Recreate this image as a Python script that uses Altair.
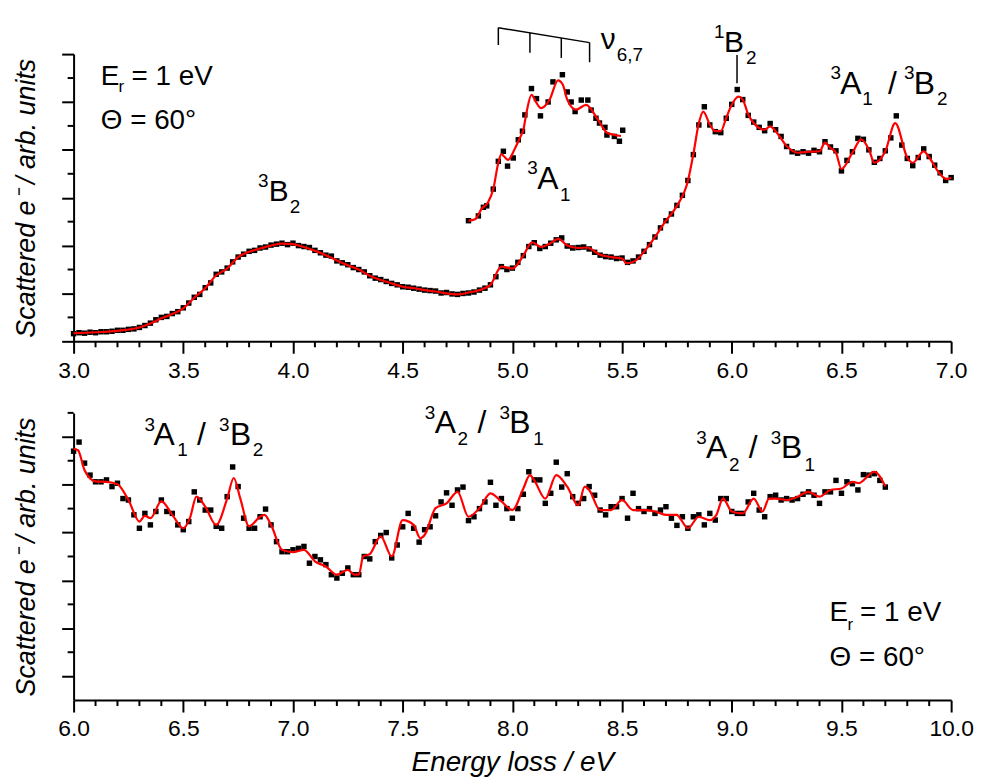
import altair as alt
import pandas as pd

FONT = "Liberation Sans"

# ---------------- data ----------------
# measured points, top panel: 3.0 .. 7.0 eV every 0.025 eV
TOP_DOT_START = 3.0
DOT_STEP = 0.025
top_dots = [
    0.16, 0.18, 0.17, 0.19, 0.18, 0.20, 0.20, 0.21,
    0.23, 0.23, 0.25, 0.26, 0.29, 0.33, 0.38, 0.45,
    0.50, 0.52, 0.58, 0.62, 0.70, 0.80, 0.92, 0.98,
    1.12, 1.22, 1.40, 1.45, 1.53, 1.66, 1.76, 1.82,
    1.88, 1.90, 1.95, 1.97, 2.01, 2.03, 2.05, 2.02,
    2.05, 2.00, 1.98, 1.96, 1.90, 1.85, 1.80, 1.78,
    1.68, 1.64, 1.60, 1.54, 1.50, 1.45, 1.37, 1.32,
    1.29, 1.25, 1.21, 1.18, 1.14, 1.13, 1.11, 1.09,
    1.07, 1.06, 1.05, 1.01, 1.02, 0.99, 0.98, 1.00,
    1.01, 1.03, 1.07, 1.11, 1.18, 1.35, 1.56, 1.50,
    1.53, 1.65, 1.79, 1.98, 2.06, 1.94, 1.98, 2.05,
    2.12, 2.16, 1.99, 1.95, 1.96, 1.97, 1.93, 1.86,
    1.80, 1.77, 1.76, 1.73, 1.74, 1.65, 1.68, 1.76,
    1.88, 2.02, 2.18, 2.37, 2.52, 2.66, 2.84, 3.05,
    3.36, 3.90, 4.52, 4.90, 4.52, 4.38, 4.36, 4.66,
    4.95, 5.26, 5.05, 4.72, 4.58, 4.47, 4.40, 4.55,
    4.42, 4.28, 4.07, 3.96, 3.93, 3.96, 3.93, 3.99,
    3.96, 4.17, 4.06, 3.98, 3.56, 3.78, 3.96, 4.24,
    4.22, 4.00, 3.74, 3.82, 3.98, 4.25, 4.71, 4.10,
    3.82, 3.67, 3.84, 4.02, 3.86, 3.68, 3.52, 3.36,
    3.42,
]
# smoothed curve, top panel (energy, intensity)
top_line = [
    (3.0, 0.17), (3.1, 0.19), (3.2, 0.22), (3.3, 0.29), (3.35, 0.37), (3.4, 0.48),
    (3.45, 0.57), (3.5, 0.69), (3.55, 0.91), (3.6, 1.11), (3.65, 1.38), (3.7, 1.52),
    (3.75, 1.76), (3.8, 1.87), (3.85, 1.94), (3.9, 2.00), (3.95, 2.04), (4.0, 2.03),
    (4.05, 1.97), (4.1, 1.89), (4.15, 1.80), (4.2, 1.69), (4.25, 1.59), (4.3, 1.50),
    (4.35, 1.37), (4.4, 1.28), (4.45, 1.21), (4.5, 1.14), (4.55, 1.11), (4.6, 1.07),
    (4.65, 1.04), (4.7, 1.00), (4.75, 0.98), (4.8, 1.02), (4.85, 1.07), (4.9, 1.18),
    (4.95, 1.56), (5.0, 1.52), (5.05, 1.79), (5.09, 2.07), (5.13, 1.97), (5.17, 2.04),
    (5.21, 2.14), (5.25, 2.00), (5.3, 1.95), (5.34, 1.96), (5.4, 1.81), (5.45, 1.76),
    (5.5, 1.73), (5.52, 1.63), (5.56, 1.68), (5.6, 1.87), (5.65, 2.18), (5.7, 2.52),
    (5.75, 2.83), (5.8, 3.35), (5.825, 3.91), (5.85, 4.56), (5.87, 4.80), (5.9, 4.53),
    (5.925, 4.39), (5.95, 4.39), (5.975, 4.67), (6.0, 4.94), (6.03, 5.11), (6.05, 5.05),
    (6.075, 4.74), (6.1, 4.56), (6.15, 4.42), (6.175, 4.49), (6.2, 4.39), (6.25, 4.08),
    (6.3, 3.94), (6.35, 3.96), (6.4, 3.97), (6.425, 4.15), (6.45, 4.04), (6.475, 3.94),
    (6.5, 3.60), (6.55, 3.94), (6.59, 4.22), (6.625, 4.01), (6.65, 3.73), (6.7, 3.97),
    (6.745, 4.56), (6.8, 3.84), (6.825, 3.73), (6.875, 3.97), (6.9, 3.84), (6.95, 3.49),
    (6.98, 3.39), (7.0, 3.42),
]
# magnified inset 4.8 .. 5.5 eV
inset_dots = [
    (4.800, 2.52), (4.845, 2.62), (4.868, 2.80), (4.883, 2.83), (4.913, 3.18), (4.936, 3.76),
    (4.959, 3.97), (4.978, 3.66), (5.004, 3.83), (5.027, 4.21), (5.046, 4.39), (5.057, 4.73),
    (5.087, 5.28), (5.110, 5.07), (5.128, 4.71), (5.163, 5.00), (5.185, 5.42), (5.228, 5.57),
    (5.250, 5.21), (5.268, 5.00), (5.286, 4.80), (5.314, 5.04), (5.344, 5.04), (5.359, 4.83),
    (5.381, 4.66), (5.397, 4.56), (5.422, 4.47), (5.431, 4.31), (5.465, 4.28), (5.488, 4.18),
    (5.503, 4.41),
]
inset_line = [
    (4.80, 2.52), (4.83, 2.55), (4.86, 2.77), (4.89, 2.91), (4.913, 3.18), (4.936, 3.73),
    (4.95, 3.91), (4.965, 3.85), (4.98, 3.79), (5.01, 4.01), (5.034, 4.25), (5.05, 4.42),
    (5.064, 4.77), (5.087, 5.15), (5.11, 4.98), (5.13, 4.87), (5.17, 5.05), (5.208, 5.45),
    (5.23, 5.36), (5.25, 5.05), (5.29, 4.84), (5.336, 4.94), (5.39, 4.63), (5.434, 4.35),
    (5.495, 4.29),
]
# measured points, bottom panel: 6.0 .. 9.7 eV every 0.025 eV
BOT_DOT_START = 6.0
bottom_dots = [
    5.20, 5.39, 4.95, 4.70, 4.56, 4.56, 4.60, 4.46,
    4.53, 4.21, 4.18, 3.87, 3.59, 3.90, 3.66, 3.94,
    4.18, 3.94, 3.90, 3.66, 3.56, 3.73, 4.35, 4.18,
    3.97, 3.97, 3.63, 3.59, 4.25, 4.87, 4.46, 3.80,
    3.59, 3.59, 3.83, 3.99, 3.66, 3.31, 3.10, 3.10,
    3.14, 3.17, 3.21, 2.86, 3.00, 2.93, 2.83, 2.62,
    2.55, 2.65, 2.76, 2.62, 2.62, 3.00, 2.95, 3.31,
    3.44, 3.50, 2.97, 3.24, 3.62, 3.90, 3.59, 3.30,
    3.56, 3.62, 3.85, 4.14, 4.33, 4.07, 4.39, 4.45,
    3.75, 3.83, 4.00, 4.14, 4.55, 4.07, 4.21, 4.00,
    3.80, 4.00, 4.30, 4.77, 4.60, 4.60, 4.11, 4.32,
    4.97, 4.45, 4.73, 4.25, 4.11, 4.21, 4.46, 4.28,
    3.97, 3.87, 4.04, 4.04, 4.21, 3.80, 4.32, 4.00,
    3.94, 4.00, 3.90, 3.97, 4.04, 3.80, 3.65, 3.83,
    3.59, 3.83, 3.87, 3.66, 3.90, 3.76, 4.21, 4.21,
    3.94, 3.90, 3.90, 4.14, 4.32, 3.97, 3.83, 4.25,
    4.28, 4.18, 4.21, 4.18, 4.21, 4.30, 4.35, 4.28,
    4.11, 4.35, 4.35, 4.59, 4.32, 4.56, 4.52, 4.39,
    4.71, 4.70, 4.73, 4.59, 4.45,
]
bottom_line = [
    (6.0, 5.25), (6.02, 5.22), (6.05, 4.80), (6.075, 4.63), (6.1, 4.57), (6.15, 4.56),
    (6.2, 4.51), (6.25, 4.18), (6.3, 3.73), (6.325, 3.85), (6.35, 3.80), (6.4, 4.15),
    (6.45, 3.87), (6.5, 3.59), (6.53, 3.80), (6.56, 4.25), (6.6, 4.04), (6.65, 3.66),
    (6.7, 4.21), (6.73, 4.64), (6.76, 4.21), (6.8, 3.63), (6.85, 3.83), (6.87, 3.87),
    (6.9, 3.66), (6.95, 3.14), (7.0, 3.09), (7.05, 3.14), (7.1, 2.90), (7.15, 2.79),
    (7.2, 2.62), (7.25, 2.72), (7.28, 2.62), (7.3, 2.62), (7.32, 3.00), (7.35, 3.05),
    (7.4, 3.42), (7.45, 3.00), (7.5, 3.76), (7.55, 3.66), (7.58, 3.38), (7.6, 3.45),
    (7.65, 4.01), (7.7, 4.11), (7.75, 4.35), (7.8, 3.83), (7.85, 4.01), (7.9, 4.32),
    (7.95, 4.15), (8.0, 3.97), (8.05, 4.42), (8.08, 4.70), (8.1, 4.59), (8.15, 4.21),
    (8.2, 4.70), (8.25, 4.46), (8.3, 4.07), (8.33, 4.46), (8.35, 4.39), (8.4, 3.97),
    (8.45, 3.97), (8.5, 4.18), (8.55, 3.97), (8.6, 3.97), (8.65, 3.94), (8.7, 3.87),
    (8.75, 3.87), (8.77, 3.76), (8.8, 3.59), (8.85, 3.83), (8.9, 3.76), (8.93, 3.87),
    (8.96, 4.21), (9.0, 3.94), (9.05, 3.90), (9.1, 4.21), (9.14, 3.94), (9.17, 4.21),
    (9.2, 4.21), (9.25, 4.18), (9.3, 4.25), (9.35, 4.35), (9.4, 4.25), (9.45, 4.39),
    (9.5, 4.42), (9.55, 4.56), (9.58, 4.53), (9.6, 4.59), (9.65, 4.77), (9.7, 4.46),
]

# axis ticks
top_x_major = [3.0, 3.5, 4.0, 4.5, 5.0, 5.5, 6.0, 6.5, 7.0]
bot_x_major = [6.0, 6.5, 7.0, 7.5, 8.0, 8.5, 9.0, 9.5, 10.0]
top_y_major = [0, 1, 2, 3, 4, 5, 6]
top_y_minor = [0.5, 1.5, 2.5, 3.5, 4.5, 5.5]
bot_y_major = [0.5, 1.5, 2.5, 3.5, 4.5, 5.5]
bot_y_minor = [1, 2, 3, 4, 5, 6]

# annotation pieces: (energy, intensity, text, font size)
top_texts = [
    (3.124, 5.36, "E", 28), (3.205, 5.20, "r", 17), (3.264, 5.36, "= 1 eV", 28),
    (3.124, 4.43, "\u0398 = 60\u00b0", 28),
    (3.840, 3.23, "3", 19), (3.890, 2.94, "B", 30), (3.985, 2.69, "2", 19),
    (5.068, 3.50, "3", 19), (5.113, 3.18, "A", 32), (5.217, 2.94, "1", 19),
    (5.403, 6.11, "\u03bd", 30), (5.476, 5.86, "6,7", 19),
    (5.919, 6.34, "1", 19), (5.965, 6.05, "B", 30), (6.065, 5.80, "2", 19),
    (6.450, 5.47, "3", 19), (6.495, 5.16, "A", 32), (6.595, 4.93, "1", 19),
    (6.712, 5.16, "/", 32),
    (6.785, 5.47, "3", 19), (6.830, 5.16, "B", 32), (6.935, 4.93, "2", 19),
]
bottom_texts = [
    (6.323, 5.63, "3", 19), (6.364, 5.32, "A", 32), (6.473, 5.09, "1", 19),
    (6.563, 5.32, "/", 32),
    (6.663, 5.63, "3", 19), (6.713, 5.32, "B", 32), (6.817, 5.09, "2", 19),
    (7.601, 5.88, "3", 19), (7.646, 5.57, "A", 32), (7.750, 5.32, "2", 19),
    (7.841, 5.57, "/", 32),
    (7.941, 5.88, "3", 19), (7.986, 5.57, "B", 32), (8.095, 5.32, "1", 19),
    (8.838, 5.36, "3", 19), (8.883, 5.05, "A", 32), (8.988, 4.78, "2", 19),
    (9.078, 5.05, "/", 32),
    (9.178, 5.36, "3", 19), (9.224, 5.05, "B", 32), (9.332, 4.78, "1", 19),
    (9.446, 1.66, "E", 28), (9.528, 1.47, "r", 17), (9.585, 1.66, "= 1 eV", 28),
    (9.446, 0.72, "\u0398 = 60\u00b0", 28),
]
# vibrational comb (nu 6,7) and 1B2 marker: (E, Y, E2, Y2)
top_rules = [
    (4.936, 6.55, 5.352, 6.24),
    (4.936, 6.55, 4.936, 6.19),
    (5.080, 6.44, 5.080, 6.03),
    (5.223, 6.34, 5.223, 5.92),
    (5.352, 6.24, 5.352, 5.83),
    (6.024, 5.98, 6.024, 5.39),
]

W, H = 883, 289
DOT = 30


def panel(xdom, x_major, y_major, y_minor, dots_df, lines, texts, rules, xtitle):
    xs = alt.Scale(domain=xdom, nice=False, zero=False)
    ys = alt.Scale(domain=[0, 6], nice=False, zero=False)
    xaxis = alt.Axis(values=x_major, format=".1f", tickSize=12, labelFontSize=23,
                     labelPadding=6, title=xtitle, titleFontSize=28,
                     titleFontStyle="italic", titleFontWeight="normal", titlePadding=8,
                     labelFlush=False)
    yaxis = alt.Axis(values=y_major, labels=False, tickSize=12,
                     title="Scattered e\u207b / arb. units", titleFontSize=27,
                     titleFontStyle="italic", titleFontWeight="normal", titlePadding=20)

    def X():
        return alt.X("E:Q", scale=xs, axis=xaxis)

    def Y():
        return alt.Y("Y:Q", scale=ys, axis=yaxis)

    layers = [
        alt.Chart(dots_df).mark_square(size=DOT, color="black", opacity=1).encode(x=X(), y=Y())
    ]
    for ldf, ddf in lines:
        if ddf is not None:
            layers.append(alt.Chart(ddf).mark_square(size=DOT, color="black", opacity=1)
                          .encode(x=X(), y=Y()))
        layers.append(alt.Chart(ldf).mark_line(color="#ff0000", strokeWidth=2.2,
                                               interpolate="monotone")
                      .encode(x=X(), y=Y()))
    if rules is not None:
        layers.append(alt.Chart(rules).mark_rule(color="black", strokeWidth=1.5)
                      .encode(x=X(), y=Y(), x2="E2:Q", y2="Y2:Q"))
    layers.append(alt.Chart(texts).mark_text(align="left", baseline="alphabetic",
                                              font=FONT, color="black")
                  .encode(x=X(), y=Y(), text="txt:N",
                          size=alt.Size("sz:Q", scale=None, legend=None)))
    x_minor = [round(xdom[0] + 0.1 * i, 1) for i in range(41) if i % 5]
    layers.append(alt.Chart(pd.DataFrame({"E": x_minor})).mark_rule(color="black", strokeWidth=2)
                  .encode(x=X(), y=alt.value(H), y2=alt.value(H + 6)))
    layers.append(alt.Chart(pd.DataFrame({"Y": y_minor})).mark_rule(color="black", strokeWidth=2)
                  .encode(y=Y(), x=alt.value(0), x2=alt.value(-6)))
    return alt.layer(*layers).properties(width=W, height=H)


def grid_df(start, vals):
    return pd.DataFrame({"E": [start + DOT_STEP * i for i in range(len(vals))], "Y": vals})


def pairs_df(p, cols=("E", "Y")):
    return pd.DataFrame(p, columns=list(cols))


text_cols = ("E", "Y", "txt", "sz")
top = panel([3, 7], top_x_major, top_y_major, top_y_minor,
            grid_df(TOP_DOT_START, top_dots),
            [(pairs_df(top_line), None), (pairs_df(inset_line), pairs_df(inset_dots))],
            pairs_df(top_texts, text_cols),
            pairs_df(top_rules, ("E", "Y", "E2", "Y2")), "")
bottom = panel([6, 10], bot_x_major, bot_y_major, bot_y_minor,
               grid_df(BOT_DOT_START, bottom_dots),
               [(pairs_df(bottom_line), None)],
               pairs_df(bottom_texts, text_cols), None, "Energy loss / eV")

chart = (
    alt.vconcat(top, bottom, spacing=72, bounds="flush")
    .properties(padding={"left": 4, "top": 12, "right": 0, "bottom": 0})
    .configure_view(stroke=None)
    .configure_axis(domainWidth=2, tickWidth=2, domainColor="black", tickColor="black",
                    labelColor="black", titleColor="black", labelFont=FONT,
                    titleFont=FONT, grid=False)
)

chart.save("out.html", embed_options={"renderer": "svg", "actions": False})
